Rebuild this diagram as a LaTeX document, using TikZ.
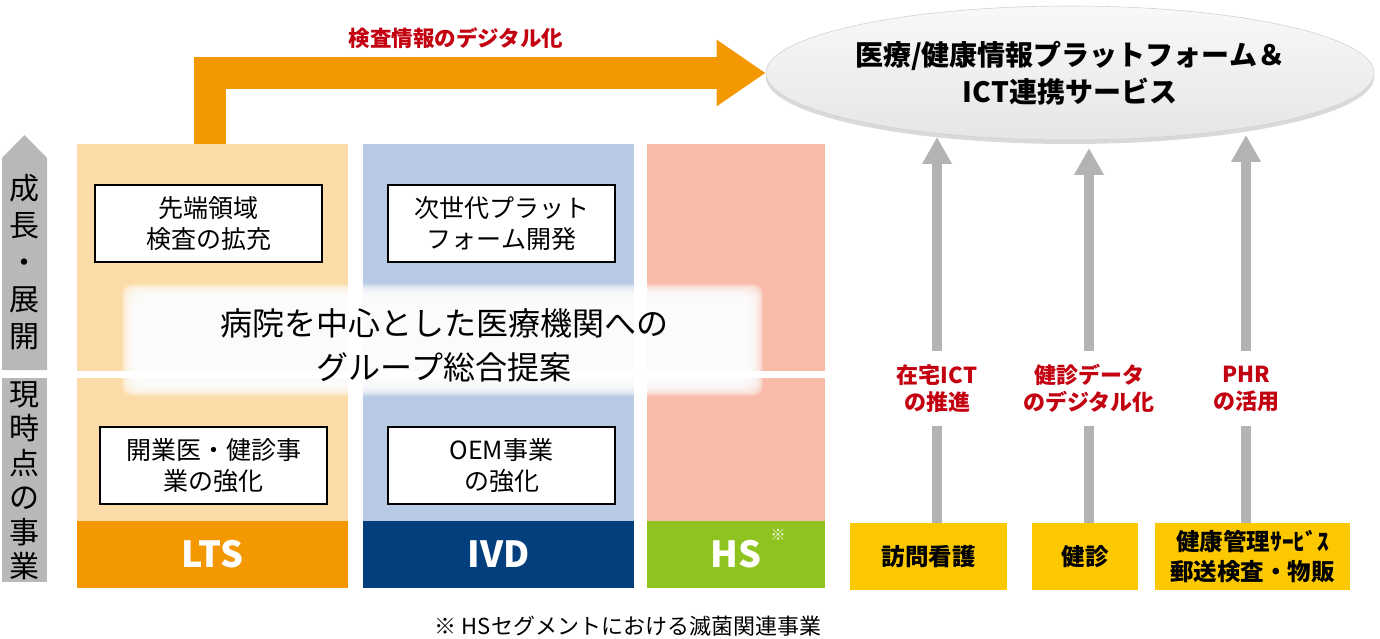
\documentclass[tikz,border=0pt]{standalone}
\usepackage{fontspec}
\setmainfont{Noto Sans CJK JP}
\usetikzlibrary{arrows.meta,shadows,shapes.geometric}
\definecolor{ltslight}{HTML}{FBDCA8}
\definecolor{ivdlight}{HTML}{B8CAE4}
\definecolor{hslight}{HTML}{F7BBA8}
\definecolor{ltsdark}{HTML}{F39800}
\definecolor{ivddark}{HTML}{023F7C}
\definecolor{hsdark}{HTML}{8FC31F}
\definecolor{gold}{HTML}{FCC800}
\definecolor{myred}{HTML}{C3000F}
\definecolor{arrgray}{HTML}{B3B3B3}
\definecolor{axisgray}{HTML}{B8B8B8}
\begin{document}
\begin{tikzpicture}[x=1pt,y=-1pt,
  col/.style={anchor=north west, inner sep=0pt, outer sep=0pt},
  wbox/.style={draw=black, line width=1.4pt, fill=white, minimum width=227, minimum height=77, align=center, inner sep=0pt, font=\fontsize{25}{31}\selectfont},
  seg/.style={font=\bfseries\fontsize{36}{36}\selectfont, text=white},
  gbox/.style={fill=gold, minimum height=67, anchor=north west, inner sep=0pt, align=center, font=\bfseries\fontsize{23.5}{30}\selectfont},
  rlabel/.style={fill=white, text=myred, font=\bfseries\fontsize{22}{27}\selectfont, align=center, minimum height=75, inner sep=2pt},
  garrow/.style={draw=arrgray, line width=10pt, -{Triangle[width=28pt,length=27pt]}},
  oarrow/.style={draw=ltsdark, line width=32pt, line join=miter, -{Triangle[width=63pt,length=49pt]}}
]
\useasboundingbox (0,0) rectangle (1380,639);

% left axis
\fill[axisgray] (2,158) -- (24.5,135) -- (47,158) -- (47,370) -- (2,370) -- cycle;
\fill[axisgray] (2,378) rectangle (47,582);
\node[font=\fontsize{30}{37}\selectfont, align=center, inner sep=0pt] (axU) at (24.5,262) {成\\長\\・\\展\\開};
\node[font=\fontsize{30}{34.5}\selectfont, align=center, inner sep=0pt] (axL) at (24.5,481) {現\\時\\点\\の\\事\\業};

% columns
\node[col, fill=ltslight, minimum width=271, minimum height=227] (ltsU) at (77,144) {};
\node[col, fill=ltslight, minimum width=271, minimum height=143] (ltsL) at (77,378) {};
\node[col, fill=ltsdark, minimum width=271, minimum height=67] (ltsD) at (77,521) {};
\node[seg] at (ltsD.center) {LTS};

\node[col, fill=ivdlight, minimum width=271, minimum height=227] (ivdU) at (363,144) {};
\node[col, fill=ivdlight, minimum width=271, minimum height=143] (ivdL) at (363,378) {};
\node[col, fill=ivddark, minimum width=271, minimum height=67] (ivdD) at (363,521) {};
\node[seg] at (ivdD.center) {IVD};

\node[col, fill=hslight, minimum width=178, minimum height=227] (hsU) at (647,144) {};
\node[col, fill=hslight, minimum width=178, minimum height=143] (hsL) at (647,378) {};
\node[col, fill=hsdark, minimum width=178, minimum height=67] (hsD) at (647,521) {};
\node[seg] at (hsD.center) {HS};
\node[text=white, font=\fontsize{15}{15}\selectfont, inner sep=0pt] (hsnote) at (778,535) {※};

% boxes
\node[wbox] (b1) at (208.5,223.5) {先端領域\\検査の拡充};
\node[wbox] (b2) at (501.5,223.5) {次世代プラット\\フォーム開発};
\node[wbox] (b3) at (213.5,465.5) {開業医・健診事\\業の強化};
\node[wbox] (b4) at (501.5,465.5) {OEM事業\\の強化};

% glow
\foreach \i in {0,...,19} {
  \fill[white, opacity=0.2, rounded corners=10pt] (122+\i,284+\i) rectangle (763-\i,396-\i);
}
\node[font=\fontsize{32}{44}\selectfont, align=center, inner sep=0pt] (center) at (444,345) {病院を中心とした医療機関への\\グループ総合提案};

% ellipse
\node[ellipse, minimum width=590, minimum height=134, inner sep=0pt,
      top color=gray!5, bottom color=gray!20, draw=gray!35, line width=0.6pt,
      drop shadow={shadow xshift=0pt, shadow yshift=-4pt, opacity=0.3},
      align=center, font=\bfseries\fontsize{28}{37}\selectfont] (ell) at (1070,73)
      {医療/健康情報プラットフォーム＆\\ICT連携サービス};

% orange arrow
\coordinate (stem) at (209.5,145);
\draw[oarrow] (ltsU.north -| stem) |- (ell.west);
\node[text=myred, font=\bfseries\fontsize{21.5}{21.5}\selectfont, inner sep=0pt] (olabel) at (456,38) {検査情報のデジタル化};

% right boxes
\node[gbox, minimum width=157] (g1) at (850,523) {訪問看護};
\node[gbox, minimum width=106] (g2) at (1032,523) {健診};
\node[gbox, minimum width=195] (g3) at (1155,523) {健康管理ｻｰﾋﾞｽ\\郵送検査・物販};

\coordinate (t1) at (937,137);
\coordinate (t2) at (1089,148);
\coordinate (t3) at (1246,135);
\draw[garrow] (g1.north -| t1) -- (t1);
\draw[garrow] (g2.north -| t2) -- (t2);
\draw[garrow] (g3.north -| t3) -- (t3);

\node[rlabel] (l1) at (937,388.5) {在宅ICT\\の推進};
\node[rlabel] (l2) at (1089,388.5) {健診データ\\のデジタル化};
\node[rlabel] (l3) at (1246,388.5) {PHR\\の活用};

% footnote
\node[font=\fontsize{22}{22}\selectfont, inner sep=0pt] (foot) at (628,626) {※ HSセグメントにおける滅菌関連事業};
\end{tikzpicture}
\end{document}
